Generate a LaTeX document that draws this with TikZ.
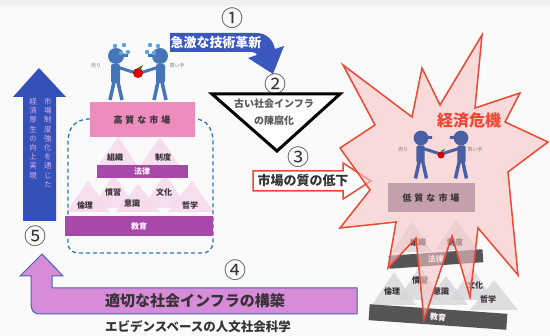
\documentclass[tikz,border=0pt]{standalone}
\usepackage{fontspec}
\setmainfont{Noto Sans CJK JP}

\definecolor{paper}{RGB}{250,250,250}
\definecolor{techblue}{RGB}{58,88,192}
\definecolor{upblue}{RGB}{52,80,185}
\definecolor{uptext}{RGB}{215,175,230}
\definecolor{hqpink}{RGB}{238,140,190}
\definecolor{lawpurple}{RGB}{168,72,168}
\definecolor{hillpink}{RGB}{246,216,236}
\definecolor{dashblue}{RGB}{50,115,185}
\definecolor{buildfill}{RGB}{214,140,214}
\definecolor{buildline}{RGB}{70,100,180}
\definecolor{starfill}{RGB}{249,198,198}
\definecolor{starline}{RGB}{236,72,52}
\definecolor{lqbox}{RGB}{196,160,170}
\definecolor{darkbar}{RGB}{85,85,88}
\definecolor{hillgray}{RGB}{214,214,218}
\definecolor{ink}{RGB}{55,50,55}
\definecolor{traderblue}{RGB}{70,118,185}
\definecolor{traderdark}{RGB}{75,95,165}
\definecolor{sweat}{RGB}{90,165,225}

\tikzset{
  circnum/.style={font=\fontsize{22}{22}\selectfont, text=ink, inner sep=0pt},
  label/.style={font=\fontsize{8}{8}\selectfont\bfseries, text=ink, inner sep=0pt},
  tiny/.style={font=\fontsize{5}{5}\selectfont, text=gray, inner sep=0pt},
  bartext/.style={font=\fontsize{8}{8}\selectfont\bfseries, text=white!85!pink, inner sep=0pt},
  hill/.style={fill=hillpink, fill opacity=0.8},
  grayhill/.style={fill=hillgray, fill opacity=0.8},
  trader/.pic={
    \fill (0,0) circle (8);
    \fill (0,-3) -- (12,-2) -- (12,1) -- (0,1) -- cycle;
    \fill[rounded corners=2] (-5,8) rectangle (4,27);
    \draw[line width=3.5] (-2,26) -- (-6,44) (2,26) -- (6,44);
    \draw[line width=3] (1,11) -- (20,17);
  }
}

\begin{document}
\begin{tikzpicture}[x=1pt,y=-1pt]
  \useasboundingbox (0,0) rectangle (550,336);
  \fill[paper] (0,0) rectangle (550,336);
  \fill[black!6] (0,0) rectangle (550,6);

  % (1) rapid innovation
  \fill[techblue] (170,33) -- (256,33) .. controls (267,33) and (273,40) .. (275,49) -- (284,46) -- (273,74) -- (248,58) -- (257,55) .. controls (256,53) .. (252,52) -- (170,52) -- cycle;
  \node[circnum] (n1) at (232,18) {①};
  \node[font=\fontsize{13}{13}\selectfont\bfseries, text=white, inner sep=0pt] (tech) at (216,43) {急激な技術革新};

  % (2) old infrastructure
  \node[circnum] (n2) at (275,84) {②};
  \filldraw[fill=white, line width=3, line join=miter] (212,94) -- (340,94) -- (277,151) -- cycle;
  \node[font=\fontsize{10}{10}\selectfont\bfseries, text=black!65, inner sep=0pt] (old1) at (274,104) {古い社会インフラ};
  \node[font=\fontsize{10}{10}\selectfont\bfseries, text=black!65, inner sep=0pt] (old2) at (274,121) {の陳腐化};

  % (3) market quality drops
  \node[circnum] (n3) at (298,157) {③};
  \filldraw[fill=white, draw=starline, line width=1.5] (253,171) -- (343,171) -- (343,163) -- (371,181) -- (343,199) -- (343,191) -- (253,191) -- cycle;
  \node[font=\fontsize{13}{13}\selectfont\bfseries, text=ink, inner sep=0pt] (drop) at (303,181) {市場の質の低下};

  % broken pyramid
  \fill[grayhill] (392,252) -- (412,222) -- (432,252) -- cycle;
  \fill[grayhill] (435,250) -- (456,220) -- (478,250) -- cycle;
  \fill[grayhill] (372,305) -- (394,272) -- (416,305) -- cycle;
  \fill[grayhill] (398,300) -- (420,266) -- (442,300) -- cycle;
  \fill[grayhill] (424,305) -- (446,276) -- (468,305) -- cycle;
  \fill[grayhill] (450,300) -- (472,268) -- (494,300) -- cycle;
  \fill[grayhill] (470,310) -- (494,280) -- (518,310) -- cycle;
  \node[label] (rsoshiki) at (418,242) {組織};
  \node[label] (rseido) at (455,242) {制度};
  \node[fill=darkbar, rotate=4, minimum width=94pt, minimum height=13pt, bartext] (rhoritsu) at (436,259) {法律};
  \node[label] (rkanshu) at (420,280) {慣習};
  \node[label] (rishiki) at (441,291) {意識};
  \node[label] (rbunka) at (475,285) {文化};
  \node[label] (rrinri) at (392,291) {倫理};
  \node[label] (rtetsu) at (488,299) {哲学};
  \node[fill=darkbar, rotate=-4, minimum width=138pt, minimum height=16pt, bartext] (rkyoiku) at (438,317) {教育};

  % economic crisis
  \filldraw[fill=starfill, fill opacity=0.6, draw=starline, line width=1.5, line join=miter]
    (343,65) -- (412,117) -- (422,68) -- (440,105) -- (482,35) -- (475,108)
    -- (520,93) -- (505,122) -- (548,142) -- (508,172) -- (518,275) -- (478,228)
    -- (470,297) -- (452,236) -- (424,320) -- (416,238) -- (388,268) -- (396,222)
    -- (340,228) -- (370,190) -- (340,148) -- (375,125) -- cycle;
  \node[font=\fontsize{16}{16}\selectfont\bfseries, text=starline, inner sep=0pt] (crisis) at (469,120) {経済危機};
  \pic[color=traderdark, scale=0.92] at (421,138) {trader};
  \pic[color=traderdark, scale=0.92, xscale=-1] at (461,138) {trader};
  \fill[red!80!black] (441,155) circle (3.5);
  \fill[green!50!black] (441,151) -- (445,149) -- (443,152) -- cycle;
  \node[tiny] (rseller) at (403,150) {売り};
  \node[tiny] (rbuyer) at (475,150) {買い手};
  \fill[lqbox] (388,183) rectangle (475,212);
  \node[font=\fontsize{9}{9}\selectfont\bfseries, text=ink, inner sep=0pt] (lowq) at (431,198) {低\,\,質\,\,な\,\,市\,\,場};

  % healthy market
  \fill[hill] (98,166) -- (118,137) -- (138,166) -- cycle;
  \fill[hill] (140,166) -- (160,137) -- (180,166) -- cycle;
  \fill[hill] (66,212) -- (88,181) -- (110,212) -- cycle;
  \fill[hill] (92,208) -- (114,174) -- (136,208) -- cycle;
  \fill[hill] (116,212) -- (138,184) -- (160,212) -- cycle;
  \fill[hill] (142,208) -- (165,174) -- (188,208) -- cycle;
  \fill[hill] (168,212) -- (192,181) -- (214,212) -- cycle;
  \draw[dashblue, line width=1.3, dash pattern=on 4pt off 3pt]
    (90,119) .. controls (75,119) and (68,128) .. (68,142) -- (68,242)
    .. controls (68,250) and (72,253) .. (80,253) -- (201,253)
    .. controls (209,253) and (213,249) .. (213,241) -- (213,142)
    .. controls (213,128) and (206,119) .. (195,119);
  \pic[color=traderblue] at (116,56) {trader};
  \pic[color=traderblue, xscale=-1] at (160,56) {trader};
  \fill[red!85!black] (138,73) circle (5);
  \fill[green!50!black] (138,68) -- (143,65) -- (141,69) -- cycle;
  \foreach \dx/\dy in {115/46, 124/45, 128/52, 121/53, 150/45, 158/46, 147/52, 154/53}
    \fill[sweat] (\dx,\dy) circle (2.2);
  \node[tiny] (lseller) at (96,66) {売り};
  \node[tiny] (lbuyer) at (177,66) {買い手};
  \fill[hqpink] (90,102) rectangle (195,137);
  \node[font=\fontsize{9}{9}\selectfont\bfseries, text=ink, inner sep=0pt] (highq) at (142,120) {高\,\,質\,\,な\,\,市\,\,場};
  \node[label] (soshiki) at (115,157) {組織};
  \node[label] (seido) at (163,157) {制度};
  \fill[lawpurple] (97,165) rectangle (188,178);
  \node[bartext] (horitsu) at (142,171) {法律};
  \node[label] (kanshu) at (113,192) {慣習};
  \node[label] (bunka) at (164,192) {文化};
  \node[label] (ishiki) at (132,203) {意識};
  \node[label] (rinri) at (85,205) {倫理};
  \node[label] (tetsu) at (190,205) {哲学};
  \fill[lawpurple] (65,216) rectangle (213,236);
  \node[bartext] (kyoiku) at (139,226) {教育};

  % (5) recovery
  \fill[upblue] (23,221) -- (23,97) -- (13,97) -- (39,68) -- (66,97) -- (56,97) -- (56,221) -- cycle;
  \node[font=\fontsize{7.5}{9.2}\selectfont, text=uptext, align=center, inner sep=0pt, anchor=north] (upa) at (48,98) {市\\場\\制\\度\\強\\化\\を\\通\\じ\\た};
  \node[font=\fontsize{7.5}{9.2}\selectfont, text=uptext, align=center, inner sep=0pt, anchor=north] (upb) at (33,98) {経\\済\\厚\\生\\の\\向\\上\\実\\現};
  \node[circnum] (n5) at (35,236) {⑤};

  % (4) building infrastructure
  \filldraw[fill=buildfill, draw=buildline, line width=1] (357,288) -- (357,314) -- (40,314) .. controls (33,314) and (31,310) .. (31,303) -- (31,276) -- (20,276) -- (42,254) -- (63,276) -- (52,276) -- (52,288) -- cycle;
  \node[circnum] (n4) at (235,270) {④};
  \node[font=\fontsize{15}{15}\selectfont\bfseries, text=ink, inner sep=0pt] (build) at (195,301) {適切な社会インフラの構築};
  \node[font=\fontsize{12.5}{12.5}\selectfont\bfseries, text=ink, inner sep=0pt] (evid) at (198,327) {エビデンスベースの人文社会科学};
\end{tikzpicture}
\end{document}
